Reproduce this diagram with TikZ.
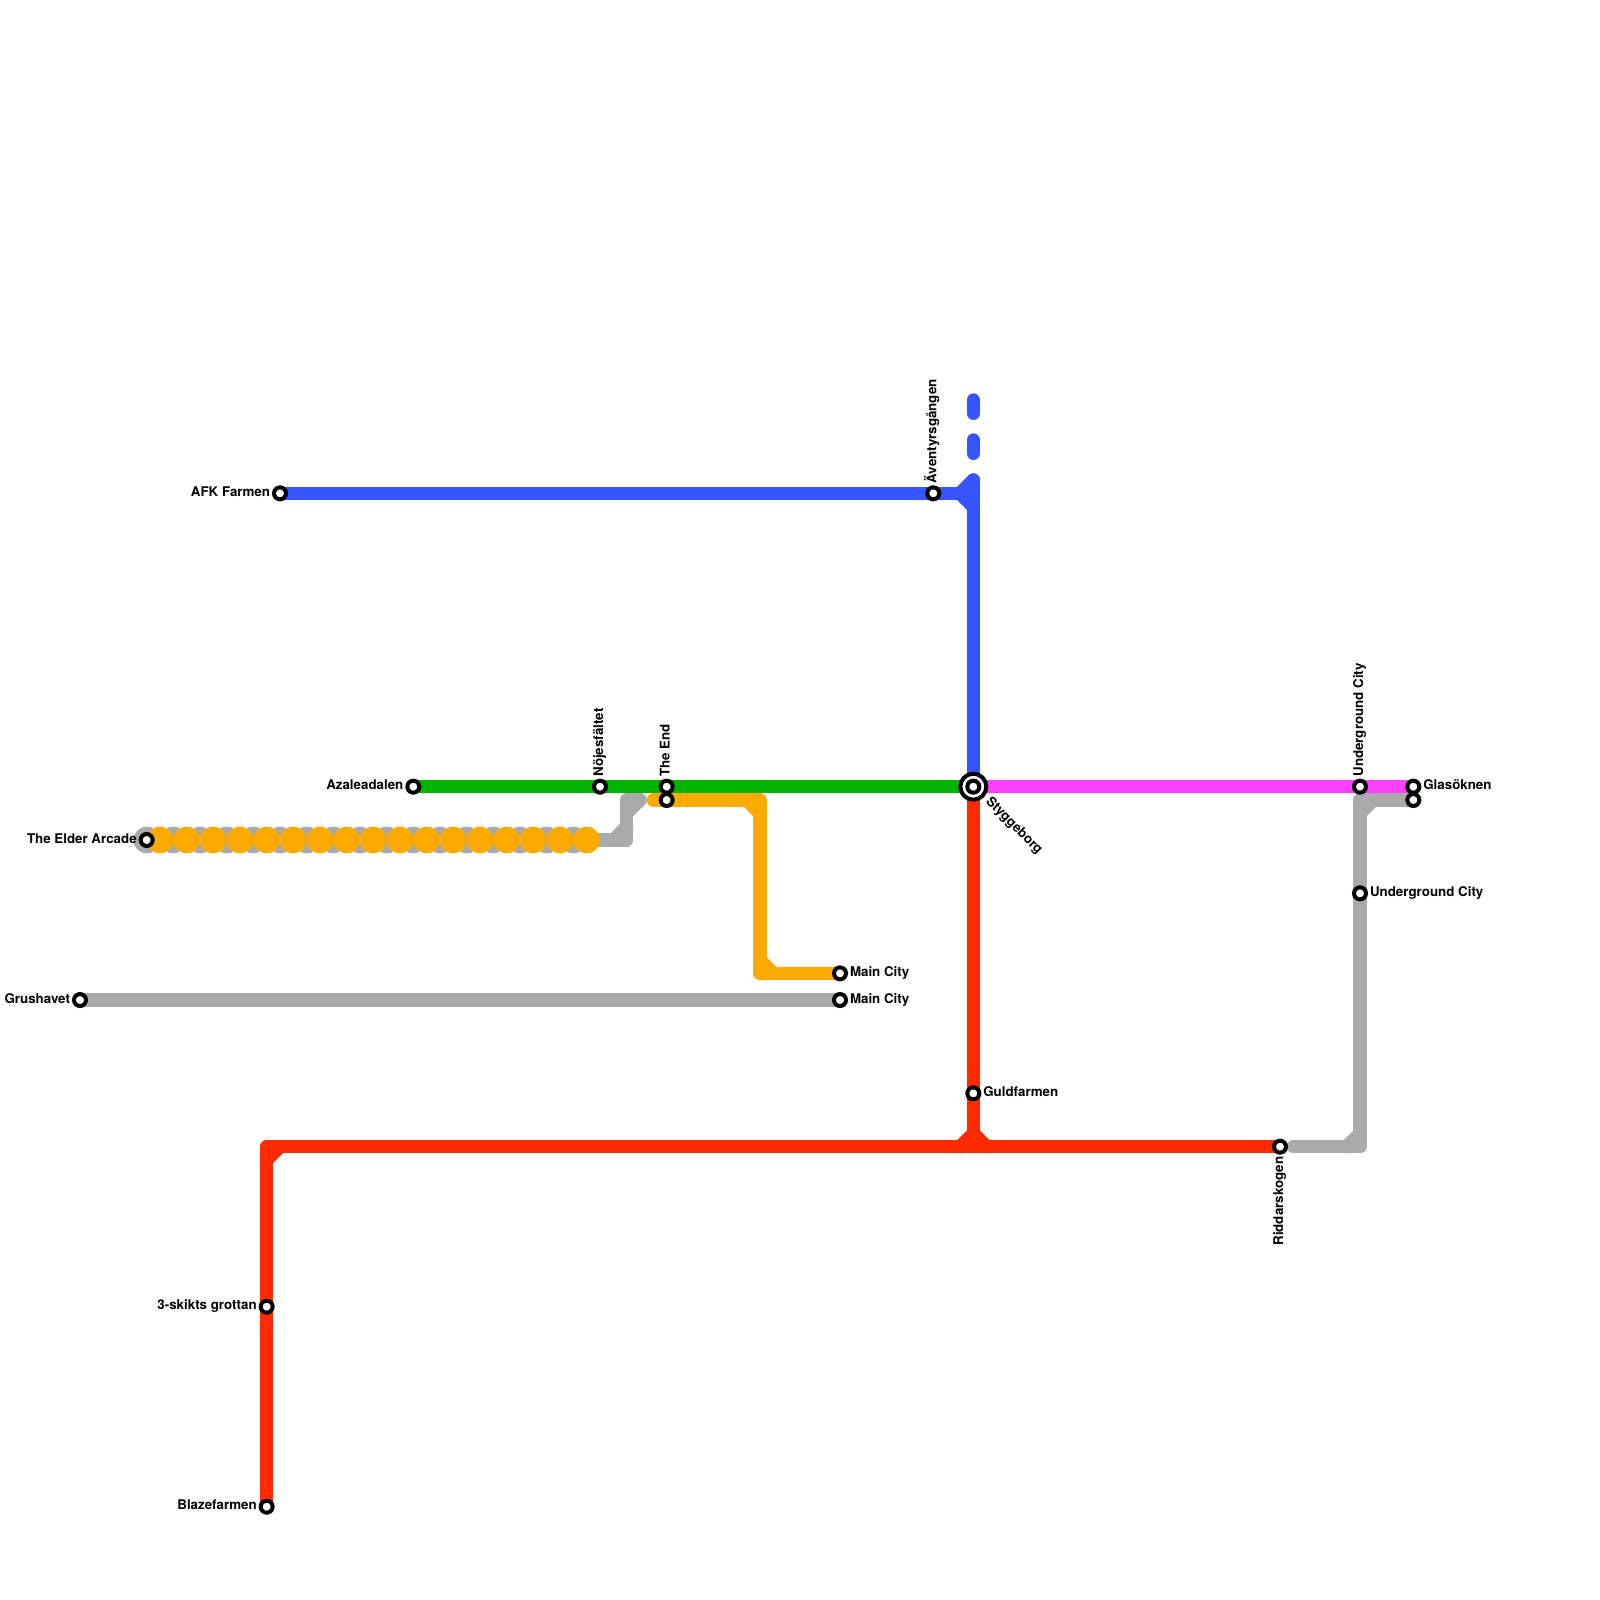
\documentclass[tikz,border=0pt]{standalone}
\usepackage{fontspec}
\setmainfont{TeX Gyre Heros}
\usetikzlibrary{positioning,backgrounds}
\definecolor{lineblue}{HTML}{3755FF}
\definecolor{linegreen}{HTML}{00B400}
\definecolor{lineorange}{HTML}{FFAA00}
\definecolor{linered}{HTML}{FF2A00}
\definecolor{linegray}{HTML}{AAAAAA}
\definecolor{linepink}{HTML}{FF40FF}
\tikzset{
  metro/.style={line width=10pt, line cap=round, line join=round},
  stop/.style={draw=black, fill=white, circle, line width=3pt, inner sep=0pt, minimum size=9pt},
  hub/.style={draw=black, fill=white, circle, line width=3pt, inner sep=0pt, minimum size=19.5pt},
  tag/.style={inner sep=0pt, text height=7pt, text depth=2.5pt, font=\bfseries\fontsize{10pt}{12pt}\selectfont},
  graydot/.style={fill=linegray, circle, inner sep=0pt, minimum size=20pt},
  orangedot/.style={fill=lineorange, circle, inner sep=0pt, minimum size=20pt}
}
\begin{document}
\begin{tikzpicture}[x=10pt,y=-10pt]
\useasboundingbox (0,0) rectangle (120,120);

% the thick stretch at the left
\node[graydot] (g11) at (11,63) {};
\node[graydot] (g13) at (13,63) {};
\node[graydot] (g15) at (15,63) {};
\node[graydot] (g17) at (17,63) {};
\node[graydot] (g19) at (19,63) {};
\node[graydot] (g21) at (21,63) {};
\node[graydot] (g23) at (23,63) {};
\node[graydot] (g25) at (25,63) {};
\node[graydot] (g27) at (27,63) {};
\node[graydot] (g29) at (29,63) {};
\node[graydot] (g31) at (31,63) {};
\node[graydot] (g33) at (33,63) {};
\node[graydot] (g35) at (35,63) {};
\node[graydot] (g37) at (37,63) {};
\node[graydot] (g39) at (39,63) {};
\node[graydot] (g41) at (41,63) {};
\node[graydot] (g43) at (43,63) {};

\node[orangedot] (o12) at (12,63) {};
\node[orangedot] (o14) at (14,63) {};
\node[orangedot] (o16) at (16,63) {};
\node[orangedot] (o18) at (18,63) {};
\node[orangedot] (o20) at (20,63) {};
\node[orangedot] (o22) at (22,63) {};
\node[orangedot] (o24) at (24,63) {};
\node[orangedot] (o26) at (26,63) {};
\node[orangedot] (o28) at (28,63) {};
\node[orangedot] (o30) at (30,63) {};
\node[orangedot] (o32) at (32,63) {};
\node[orangedot] (o34) at (34,63) {};
\node[orangedot] (o36) at (36,63) {};
\node[orangedot] (o38) at (38,63) {};
\node[orangedot] (o40) at (40,63) {};
\node[orangedot] (o42) at (42,63) {};
\node[orangedot] (o44) at (44,63) {};

% stops
\node[stop] (afk) at (21,37) {};
\node[stop] (aventyr) at (70,37) {};
\node[stop] (azalea) at (31,59) {};
\node[stop] (nojes) at (45,59) {};
\node[stop] (endup) at (50,59) {};
\node[stop] (enddown) at (50,60) {};
\node[stop] (elder) at (11,63) {};
\node[stop] (mainup) at (63,73) {};
\node[stop] (maindown) at (63,75) {};
\node[stop] (grus) at (6,75) {};
\node[stop] (guld) at (73,82) {};
\node[stop] (riddar) at (96,86) {};
\node[stop] (skikt) at (20,98) {};
\node[stop] (blaze) at (20,113) {};
\node[stop] (underup) at (102,59) {};
\node[stop] (underdown) at (102,67) {};
\node[stop] (glasup) at (106,59) {};
\node[stop] (glasdown) at (106,60) {};
\node[hub] (stygg) at (73,59) {};
\node[stop] (stygginner) at (73,59) {};

% names
\node[tag, left=1.3pt of afk] (afktext) {AFK Farmen};
\node[tag, left=1.3pt of azalea] (azaleatext) {Azaleadalen};
\node[tag, left=1.3pt of elder] (eldertext) {The Elder Arcade};
\node[tag, left=1.3pt of grus] (grustext) {Grushavet};
\node[tag, left=1.3pt of skikt] (skikttext) {3-skikts grottan};
\node[tag, left=1.3pt of blaze] (blazetext) {Blazefarmen};
\node[tag, right=1.3pt of mainup] (mainuptext) {Main City};
\node[tag, right=1.3pt of maindown] (maindowntext) {Main City};
\node[tag, right=1.3pt of guld] (guldtext) {Guldfarmen};
\node[tag, right=1.3pt of underdown] (underdowntext) {Underground City};
\node[tag, right=1.3pt of glasup] (glastext) {Glasöknen};
\node[tag, rotate=90, anchor=west] (aventext) at ([yshift=1.3pt]aventyr.north) {Äventyrsgången};
\node[tag, rotate=90, anchor=west] (nojestext) at ([yshift=1.3pt]nojes.north) {Nöjesfältet};
\node[tag, rotate=90, anchor=west] (endtext) at ([yshift=1.3pt]endup.north) {The End};
\node[tag, rotate=90, anchor=west] (underuptext) at ([yshift=1.3pt]underup.north) {Underground City};
\node[tag, rotate=90, anchor=east] (riddartext) at ([yshift=-1.3pt]riddar.south) {Riddarskogen};
\node[tag, rotate=-45, anchor=west] (styggtext) at ([xshift=10.5pt,yshift=-10pt]stygg.center) {Styggeborg};

% corners and loose ends
\coordinate (bluecorner) at (73,37);
\coordinate (bluetop) at (73,36);
\coordinate (bluebend) at (72,37);
\coordinate (bluelow) at (73,38);
\coordinate (dasha) at (73,33);
\coordinate (dashb) at (73,34);
\coordinate (dashc) at (73,30);
\coordinate (dashd) at (73,31);
\coordinate (grayend) at (48,60);
\coordinate (graystep) at (47,60);
\coordinate (graystepb) at (47,61);
\coordinate (graylow) at (47,63);
\coordinate (graylowa) at (46,63);
\coordinate (graylowb) at (47,62);
\coordinate (orangestart) at (49,60);
\coordinate (orangetop) at (57,60);
\coordinate (orangetopa) at (56,60);
\coordinate (orangetopb) at (57,61);
\coordinate (orangelow) at (57,73);
\coordinate (orangelowa) at (57,72);
\coordinate (orangelowb) at (58,73);
\coordinate (redcorner) at (20,86);
\coordinate (redcornera) at (20,87);
\coordinate (redcornerb) at (21,86);
\coordinate (redjoin) at (73,86);
\coordinate (redjoinup) at (73,85);
\coordinate (redjoina) at (72,86);
\coordinate (redjoinb) at (74,86);
\coordinate (rightstart) at (97,86);
\coordinate (rightlow) at (102,86);
\coordinate (rightlowa) at (101,86);
\coordinate (rightlowb) at (102,85);
\coordinate (righttop) at (102,60);
\coordinate (righttopa) at (102,61);
\coordinate (righttopb) at (103,60);

\begin{scope}[on background layer]
\draw[metro, lineblue] (afk.center) -- (bluecorner);
\draw[metro, lineblue] (bluetop) -- (stygg.center);
\draw[metro, lineblue] (bluebend) -- (bluetop);
\draw[metro, lineblue] (bluebend) -- (bluelow);
\draw[metro, lineblue] (dasha) -- (dashb);
\draw[metro, lineblue] (dashc) -- (dashd);

\draw[metro, linegreen] (azalea.center) -- (stygg.center);
\draw[metro, linepink] (stygg.center) -- (glasup.center);

\draw[metro, linegray] (g11.center) -- (graylow) -- (graystep) -- (grayend);
\draw[metro, linegray] (graystepb) -- (grayend);
\draw[metro, linegray] (graylowa) -- (graylowb);
\draw[metro, linegray] (grus.center) -- (maindown.center);
\draw[metro, linegray] (rightstart) -- (rightlow) -- (righttop) -- (glasdown.center);
\draw[metro, linegray] (rightlowa) -- (rightlowb);
\draw[metro, linegray] (righttopa) -- (righttopb);

\draw[metro, lineorange] (orangestart) -- (orangetop) -- (orangelow) -- (mainup.center);
\draw[metro, lineorange] (orangetopa) -- (orangetopb);
\draw[metro, lineorange] (orangelowa) -- (orangelowb);

\draw[metro, linered] (blaze.center) -- (redcorner) -- (riddar.center);
\draw[metro, linered] (redcornera) -- (redcornerb);
\draw[metro, linered] (stygg.center) -- (redjoin);
\draw[metro, linered] (redjoinup) -- (redjoina);
\draw[metro, linered] (redjoinup) -- (redjoinb);
\end{scope}
\end{tikzpicture}
\end{document}
